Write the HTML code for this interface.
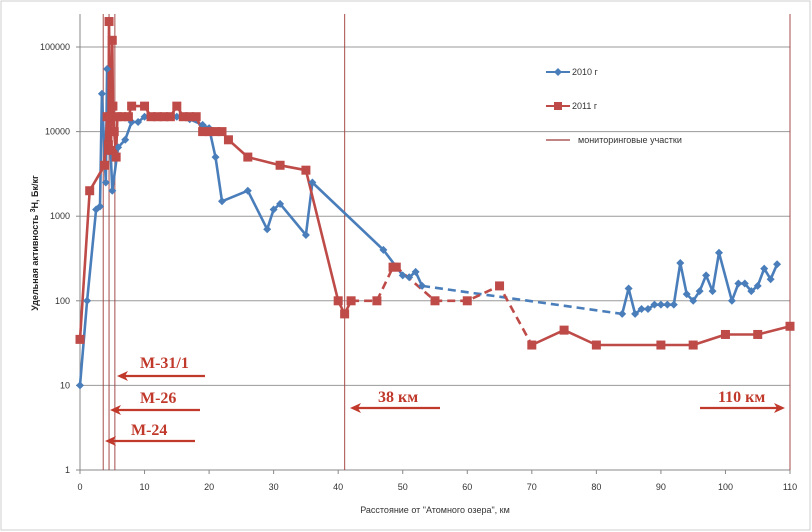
<!DOCTYPE html>
<html><head><meta charset="utf-8"><style>
body{margin:0;background:#fff;}
svg{display:block;font-family:"Liberation Sans",sans-serif;}
</style></head><body>
<svg id="c" width="812" height="532" xmlns="http://www.w3.org/2000/svg">
<rect x="1" y="1" width="809" height="529" fill="#fff" stroke="#cfcfcf"/>
<g id="grid"></g>
<g id="axes"></g>
<g id="vlines"></g>
<g id="series"></g>
<text transform="translate(38,243) rotate(-90)" text-anchor="middle" font-size="9" font-weight="bold" fill="#222">Удельная активность <tspan baseline-shift="super" font-size="7">3</tspan>H, Бк/кг</text>
<text x="435" y="513" text-anchor="middle" font-size="9" fill="#333">Расстояние от "Атомного озера", км</text>
<g>
<line x1="546" y1="72" x2="570" y2="72" stroke="#4a7ebb" stroke-width="2"/>
<path d="M558 68 L562 72 L558 76 L554 72Z" fill="#4a7ebb"/>
<text x="572" y="75" font-size="9" fill="#333">2010 г</text>
<line x1="546" y1="106" x2="570" y2="106" stroke="#be4b48" stroke-width="2"/>
<rect x="554" y="102" width="8" height="8" fill="#be4b48"/>
<text x="572" y="109" font-size="9" fill="#333">2011 г</text>
<line x1="546" y1="140" x2="570" y2="140" stroke="#9b3a38" stroke-width="1.2"/>
<text x="578" y="143" font-size="9" fill="#333">мониторинговые участки</text>
</g>
<g font-family="Liberation Serif,serif" font-weight="bold" font-size="16" fill="#c0392b">
<text x="140" y="368">M-31/1</text>
<text x="140" y="403">M-26</text>
<text x="131" y="435">M-24</text>
<text x="378" y="402">38 км</text>
<text x="718" y="402">110 км</text>
</g>
<g id="arrows"></g>
</svg>
<script>
const xTicks=[0,10,20,30,40,50,60,70,80,90,100,110];
const yTicks=[1,10,100,1000,10000,100000];
const yTickLabels=["1","10","100","1000","10000","100000"];
const monitorKm=[3.6,4.5,5.4,41,110];
const x2010=[0,1.1,2.5,3.1,3.4,4.0,4.2,5.0,5.9,7,8,9,10,11,12,13,14,15,16,17,19,20,21,22,26,29,30,31,35,36,47,50,51,52,53,84,85,86,87,88,89,90,91,92,93,94,95,96,97,98,99,101,102,103,104,105,106,107,108];
const y2010=[10,100,1200,1300,28000,2500,55000,2000,6500,8000,13000,13000,15000,15000,15000,15000,15000,15000,15000,14000,12000,11000,5000,1500,2000,700,1200,1400,600,2500,400,200,190,220,150,70,140,70,80,80,90,90,90,90,280,120,100,130,200,130,370,100,160,160,130,150,240,180,270];
const x2011=[0,1.5,3.8,4.2,4.4,4.5,4.7,4.8,5.0,5.1,5.3,5.6,5.8,6.5,7.5,8,10,11,12,13,14,15,16,17,18,19,20,21,22,23,26,31,35,40,41,42,46,48.5,49,55,60,65,70,75,80,90,95,100,105,110];
const y2011=[35,2000,4000,15000,7000,200000,15000,6000,120000,20000,10000,5000,15000,15000,15000,20000,20000,15000,15000,15000,15000,20000,15000,15000,15000,10000,10000,10000,10000,8000,5000,4000,3500,100,70,100,100,250,250,100,100,150,30,45,30,30,30,40,40,50];
const NS="http://www.w3.org/2000/svg";
const X=v=>80+v*(710/110);
const Y=v=>470-Math.log10(v)*84.6;
function mk(p,t,a){const e=document.createElementNS(NS,t);for(const k in a)e.setAttribute(k,a[k]);p.appendChild(e);return e;}
const grid=document.getElementById('grid'),axes=document.getElementById('axes');
yTicks.forEach((t,i)=>{
 if(i>0){const g=mk(grid,'line',{x1:80,x2:790,y1:Y(t),y2:Y(t),stroke:'#9a9a9a','stroke-width':1});
 
 }
 const tk=mk(axes,'line',{x1:76,x2:80,y1:Y(t),y2:Y(t),stroke:'#888'});
 
 
 const l=mk(axes,'text',{x:70,y:Y(t)+3,'text-anchor':'end','font-size':9,fill:'#333'});l.textContent=yTickLabels[i];
 
 
});
const ya=mk(axes,'line',{x1:80,x2:80,y1:14,y2:470,stroke:'#888'});


const xa=mk(axes,'line',{x1:80,x2:790,y1:470,y2:470,stroke:'#888'});


xTicks.forEach(t=>{
 const tk=mk(axes,'line',{x1:X(t),x2:X(t),y1:470,y2:474,stroke:'#888'});
 
 
 const l=mk(axes,'text',{x:X(t),y:490,'text-anchor':'middle','font-size':9,fill:'#333'});l.textContent=t;
 
 
});
const vl=document.getElementById('vlines');
monitorKm.forEach(k=>{
 const l=mk(vl,'line',{x1:X(k),x2:X(k),y1:14,y2:470,stroke:'#a0413e','stroke-width':1.1,opacity:0.85});
 
 
});
const ser=document.getElementById('series');
function seg(xs,ys,a,b,color,dash,name){
 let d='';for(let i=a;i<=b;i++)d+=(i===a?'M':'L')+X(xs[i]).toFixed(1)+' '+Y(ys[i]).toFixed(1);
 const p=mk(ser,'path',{d:d,fill:'none',stroke:color,'stroke-width':2.6,'stroke-linejoin':'round'});
 if(dash)p.setAttribute('stroke-dasharray','8 5');
 
 
}
const B='#4a7ebb',R='#be4b48';
const i53=x2010.indexOf(53),i84=x2010.indexOf(84);
seg(x2010,y2010,0,i53,B,false,'line-2010');
seg(x2010,y2010,i53,i84,B,true,'line-2010-dashed');
seg(x2010,y2010,i84,x2010.length-1,B,false,'line-2010-far');
const i42=x2011.indexOf(42),i70=x2011.indexOf(70);
seg(x2011,y2011,0,i42,R,false,'line-2011');
seg(x2011,y2011,i42,i70,R,true,'line-2011-dashed');
seg(x2011,y2011,i70,x2011.length-1,R,false,'line-2011-far');
x2010.forEach((v,i)=>{const cx=X(v),cy=Y(y2010[i]);
 const m=mk(ser,'path',{d:`M${cx} ${cy-4}L${cx+4} ${cy}L${cx} ${cy+4}L${cx-4} ${cy}Z`,fill:B});
 
 });
x2011.forEach((v,i)=>{const cx=X(v),cy=Y(y2011[i]);
 const m=mk(ser,'rect',{x:cx-4.5,y:cy-4.5,width:9,height:9,fill:R});
 
 });
const ar=document.getElementById('arrows');
[[205,117,376],[200,110,410],[195,105,441],[440,350,408],[700,785,408]].forEach(a=>{
 const [x1,x2,y]=a,dir=x2<x1?1:-1;
 const g=mk(ar,'g',{});
 
 
 mk(g,'line',{x1:x1,x2:x2+dir*6,y1:y,y2:y,stroke:'#c0392b','stroke-width':2.2});
 mk(g,'path',{d:`M${x2} ${y}L${x2+dir*11} ${y-5}L${x2+dir*8} ${y}L${x2+dir*11} ${y+5}Z`,fill:'#c0392b'});
});
</script>
</body></html>
